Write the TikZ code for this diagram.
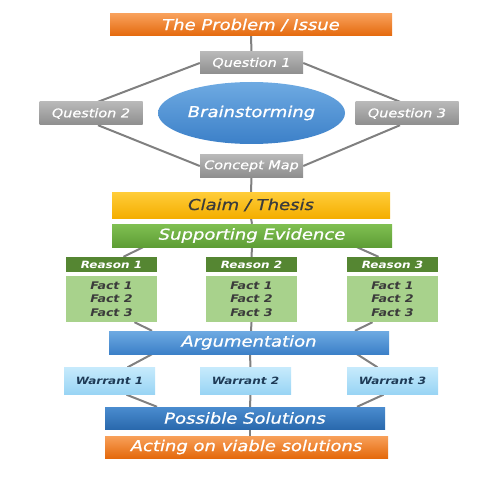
\documentclass[tikz,border=0pt]{standalone}
\usepackage{fontspec}
\setmainfont{DejaVu Sans}[FakeStretch=1.2,ItalicFeatures={FakeBold=0.8}]
\usetikzlibrary{positioning,calc,backgrounds,shapes.geometric}
\definecolor{orgT}{HTML}{F8A05A}
\definecolor{orgB}{HTML}{E4690C}
\definecolor{gryT}{HTML}{B8B8B8}
\definecolor{gryB}{HTML}{8E8E8E}
\definecolor{bluT}{HTML}{6EAAE2}
\definecolor{bluB}{HTML}{3C80C8}
\definecolor{ylwT}{HTML}{FFCD3A}
\definecolor{ylwB}{HTML}{F4AE00}
\definecolor{grnT}{HTML}{80C052}
\definecolor{grnB}{HTML}{5E9D35}
\definecolor{dgrn}{HTML}{558632}
\definecolor{lgrn}{HTML}{A8D28C}
\definecolor{wbT}{HTML}{C6EAFC}
\definecolor{wbB}{HTML}{98D4F4}
\definecolor{dbT}{HTML}{4A8CCF}
\definecolor{dbB}{HTML}{2A69AD}
\definecolor{wire}{HTML}{808080}
\definecolor{ink}{HTML}{3B3B3B}
\definecolor{navy}{HTML}{1E3B57}
\tikzset{
  bx/.style={rectangle,inner sep=0pt,align=center,text=white,font=\fontsize{15}{18}\selectfont\itshape},
  sz/.style 2 args={minimum width=#1,minimum height=#2},
  orgbox/.style={bx,top color=orgT,bottom color=orgB},
  qbox/.style={bx,top color=gryT,bottom color=gryB,sz={103pt}{22pt},font=\fontsize{12}{14}\selectfont\itshape},
  ylwbox/.style={bx,top color=ylwT,bottom color=ylwB,text=ink},
  grnbox/.style={bx,top color=grnT,bottom color=grnB},
  rbox/.style={bx,fill=dgrn,sz={91pt}{15pt},font=\fontsize{10}{12}\selectfont\bfseries\itshape},
  fbox/.style={bx,fill=lgrn,sz={91pt}{46pt},text=ink,font=\fontsize{10.5}{13.5}\selectfont\bfseries\itshape},
  blubox/.style={bx,top color=bluT,bottom color=bluB},
  wbox/.style={bx,top color=wbT,bottom color=wbB,sz={91pt}{27pt},text=navy,font=\fontsize{10}{12}\selectfont\bfseries\itshape},
  dbbox/.style={bx,top color=dbT,bottom color=dbB},
  ln/.style={draw=wire,line width=2pt},
}

\begin{document}
\begin{tikzpicture}[x=1pt,y=-1pt]
\useasboundingbox (0,0) rectangle (480,481);
% top: issue and brainstorming
\node[orgbox,sz={282pt}{22pt}] (prob) at (251,25) {The Problem / Issue};
\node[qbox] (q1) at (251.5,63) {Question 1};
\node[qbox,minimum height=23pt] (q2) at (91,113.5) {Question 2};
\node[qbox,minimum height=23pt] (q3) at (407,113.5) {Question 3};
\node[bx,ellipse,top color=bluT,bottom color=bluB,sz={187pt}{62pt}] (brain) at (251.5,113) {Brainstorming};
\node[qbox] (cmap) at (251.5,166) {Concept Map};
% claim and evidence
\node[ylwbox,sz={278pt}{26pt}] (claim) at (251,205) {Claim / Thesis};
\node[grnbox,sz={280pt}{23pt}] (evid) at (252,235.5) {Supporting Evidence};
\foreach \i/\xx in {1/111.5,2/251.5,3/392.5}{
  \node[rbox] (r\i) at (\xx,264.5) {Reason \i};
  \node[fbox] (f\i) at (\xx,299) {Fact 1\\Fact 2\\Fact 3};
}
% argumentation and solutions
\node[blubox,sz={280pt}{23pt}] (arg) at (249,342.5) {Argumentation};
\foreach \i/\xx in {1/109.5,2/245.5,3/392.5}
  \node[wbox] (w\i) at (\xx,381) {Warrant \i};
\node[dbbox,sz={280pt}{22pt}] (sol) at (245,418) {Possible Solutions};
\node[orgbox,sz={283pt}{22pt}] (act) at (246.5,447) {Acting on viable solutions};
\begin{scope}[on background layer]
\draw[ln] (prob.south) -- (q1.north);
\draw[ln] (q1.west) -- ($(q2.north)+(7,0)$);
\draw[ln] (q1.east) -- ($(q3.north)+(-7,0)$);
\draw[ln] ($(q2.south)+(7,0)$) -- (cmap.west);
\draw[ln] ($(q3.south)+(-7,0)$) -- (cmap.east);
\draw[ln] (cmap.south) -- (claim.north);
\draw[ln] (claim.south) -- (evid.north);
\draw[ln] ($(evid.south)+(-109,0)$) -- ($(r1.north)+(12,0)$);
\draw[ln] (evid.south) -- (r2.north);
\draw[ln] ($(evid.south)+(105,0)$) -- ($(r3.north)+(-14,0)$);
\draw[ln] ($(f1.south)+(23,0)$) -- ($(arg.north)+(-97,0)$);
\draw[ln] (f2.south) -- ($(arg.north)+(2,0)$);
\draw[ln] ($(f3.south)+(-20,0)$) -- ($(arg.north)+(106,0)$);
\draw[ln] ($(arg.south)+(-97,0)$) -- ($(w1.north)+(18,0)$);
\draw[ln] ($(arg.south)+(1,0)$) -- ($(w2.north)+(5,0)$);
\draw[ln] ($(arg.south)+(108,0)$) -- ($(w3.north)+(-15,0)$);
\draw[ln] ($(w1.south)+(17,0)$) -- ($(sol.north)+(-88,0)$);
\draw[ln] ($(w2.south)+(5,0)$) -- ($(sol.north)+(5,0)$);
\draw[ln] ($(w3.south)+(-9,0)$) -- ($(sol.north)+(112,0)$);
\draw[ln] ($(sol.south)+(5,0)$) -- ($(act.north)+(3.5,0)$);
\end{scope}
\end{tikzpicture}
\end{document}
